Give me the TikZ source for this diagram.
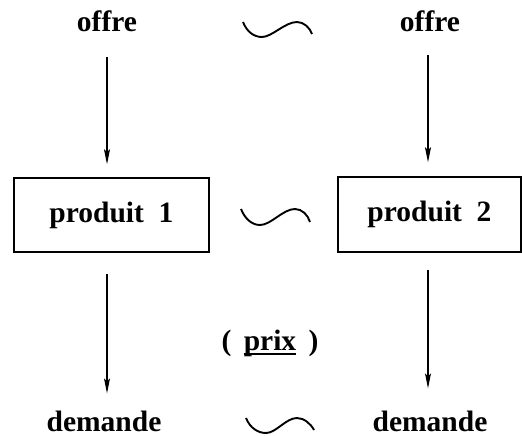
\documentclass[tikz,border=0pt]{standalone}
\usepackage{fontspec}
\setmainfont{Liberation Serif}
\usetikzlibrary{arrows.meta}
\newcommand\myul[1]{\setbox0\hbox{#1}\rlap{\rule[-4.5pt]{\wd0}{1.7pt}}\box0}
\begin{document}
\begin{tikzpicture}[x=1pt,y=-1pt,
  lbl/.style={inner sep=0pt,anchor=base,font=\bfseries\fontsize{29.5}{35}\selectfont},
  boxnode/.style={draw,line width=1.5pt,inner sep=0pt,font=\bfseries\fontsize{29.5}{35}\selectfont},
  arr/.style={line width=1.2pt,-{Stealth[length=15pt,width=6pt,inset=3pt]}},
  tilde/.style={line width=1.9pt}]
\useasboundingbox (0,0) rectangle (522,436);
\node[lbl] (offre1) at (107,32) {offre};
\node[lbl] (offre2) at (430,32) {offre};
\node[boxnode,minimum width=195pt,minimum height=74pt] (box1) at (111.5,215) {produit~~1};
\node[boxnode,minimum width=183pt,minimum height=75pt] (box2) at (429.5,214.5) {produit~~2};
\node[lbl] (dem1) at (104,431) {demande};
\node[lbl] (dem2) at (430,431) {demande};
\node[lbl] (prix) at (270,350) {(\hspace{0.42em}\myul{prix}\hspace{0.42em})};
\draw[arr,shorten <=25pt,shorten >=13pt] (offre1.south) -- (offre1.south |- box1.north);
\draw[arr,shorten <=23pt,shorten >=14pt] (offre2.south -| 428,0) -- (box2.north -| 428,0);
\draw[arr,shorten <=21pt,shorten >=17pt] (box1.south -| offre1.south) -- (dem1.north -| offre1.south);
\draw[arr,shorten <=17pt,shorten >=22pt] (box2.south -| 428,0) -- (dem2.north -| 428,0);
\draw[tilde] (243,22) .. controls (247,32) and (254,37) .. (262,37) .. controls (272,37) and (285,22) .. (297,22) .. controls (304,22) and (310,28) .. (312,34);
\draw[tilde] (241,209) .. controls (245,219) and (252,225) .. (260,225) .. controls (271,225) and (283,209) .. (295,209) .. controls (302,209) and (308,215) .. (310,222);
\draw[tilde] (246,418) .. controls (250,428) and (258,433) .. (266,433) .. controls (276,433) and (286,418) .. (297,418) .. controls (304,418) and (311,424) .. (314,430);
\end{tikzpicture}
\end{document}
